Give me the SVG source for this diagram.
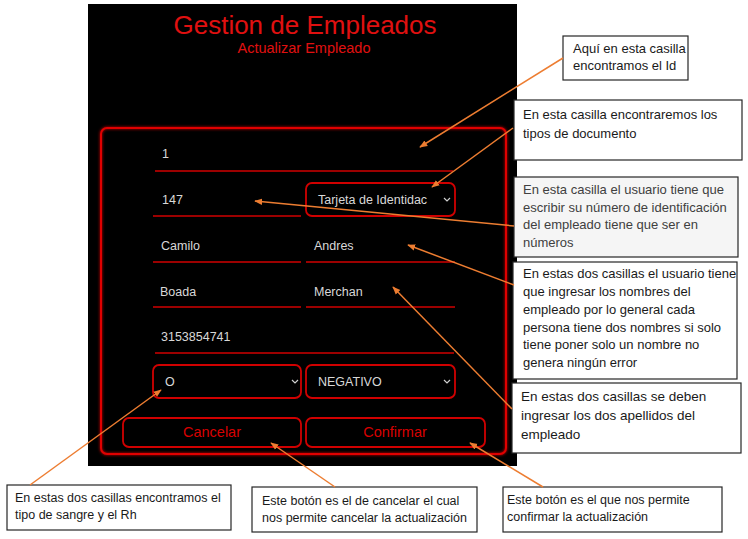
<svg xmlns="http://www.w3.org/2000/svg" width="748" height="539" viewBox="0 0 748 539">
<defs>
<style>
.field{font-family:"Liberation Sans",Arial,sans-serif;font-size:12.5px;fill:#d8d8d8}
.uline{stroke:#d00000;stroke-width:1.6}
.sel{fill:none;stroke:#d00000;stroke-width:1.8}
.chev{fill:none;stroke:#cfcfcf;stroke-width:1.2}
.btn{font-family:"Liberation Sans",Arial,sans-serif;font-size:14.5px;fill:#d80000;text-anchor:middle}
.note rect{fill:#ffffff;stroke:#262626;stroke-width:1.2}
.note text{font-family:"Liberation Sans",Arial,sans-serif;font-size:13px;fill:#1a1a1a}
.conn line{stroke:#ed7d31;stroke-width:1.5;marker-end:url(#ah)}
</style>
<marker id="ah" viewBox="0 0 10 10" refX="9" refY="5" markerWidth="8" markerHeight="8" orient="auto" markerUnits="userSpaceOnUse">
<path d="M0,1 L10,5 L0,9 z" fill="#ed7d31"/>
</marker>
<filter id="glow" x="-5%" y="-5%" width="110%" height="110%">
<feGaussianBlur stdDeviation="1.5" result="b"/>
<feMerge><feMergeNode in="b"/><feMergeNode in="SourceGraphic"/></feMerge>
</filter>
</defs>
<rect width="748" height="539" fill="#ffffff"/>

<g id="panel">
<rect x="88" y="4" width="429" height="462" fill="#000000"/>
<text x="305" y="34" text-anchor="middle" font-family="'Liberation Sans',Arial,sans-serif" font-size="26" fill="#e01010">Gestion de Empleados</text>
<text x="304" y="53" text-anchor="middle" font-family="'Liberation Sans',Arial,sans-serif" font-size="14.5" fill="#e01010">Actualizar Empleado</text>
<rect x="101" y="128" width="405" height="326" rx="6" fill="none" stroke="#e00000" stroke-width="2" filter="url(#glow)"/>
</g>

<g id="field-id"><text class="field" x="162" y="158">1</text><line class="uline" x1="155" y1="171" x2="453" y2="171"/></g>
<g id="field-numdoc"><text class="field" x="162" y="204">147</text><line class="uline" x1="153" y1="216" x2="301" y2="216"/></g>
<g id="select-tipodoc"><rect class="sel" x="306" y="183" width="149" height="33" rx="6"/><text class="field" x="318" y="204">Tarjeta de Identidac</text><path class="chev" d="M444,198 L447,201 L450,198"/></g>
<g id="field-nombre1"><text class="field" x="161" y="250">Camilo</text><line class="uline" x1="153" y1="262" x2="301" y2="262"/></g>
<g id="field-nombre2"><text class="field" x="314" y="250">Andres</text><line class="uline" x1="306" y1="262" x2="455" y2="262"/></g>
<g id="field-apellido1"><text class="field" x="160" y="296">Boada</text><line class="uline" x1="153" y1="307" x2="301" y2="307"/></g>
<g id="field-apellido2"><text class="field" x="314" y="296">Merchan</text><line class="uline" x1="306" y1="307" x2="455" y2="307"/></g>
<g id="field-telefono"><text class="field" x="161" y="341">3153854741</text><line class="uline" x1="155" y1="353" x2="454" y2="353"/></g>
<g id="select-sangre"><rect class="sel" x="153" y="365" width="148" height="33" rx="6"/><text class="field" x="165" y="386">O</text><path class="chev" d="M292,380 L295,383 L298,380"/></g>
<g id="select-rh"><rect class="sel" x="306" y="365" width="149" height="33" rx="6"/><text class="field" x="318" y="386">NEGATIVO</text><path class="chev" d="M444,380 L447,383 L450,380"/></g>
<g id="btn-cancelar"><rect class="sel" x="123" y="418" width="178" height="29" rx="6"/><text class="btn" x="212" y="437">Cancelar</text></g>
<g id="btn-confirmar"><rect class="sel" x="306" y="418" width="179" height="29" rx="6"/><text class="btn" x="395" y="437">Confirmar</text></g>

<g id="note-id" class="note"><rect x="563" y="36" width="125" height="44"/><text x="573" y="53" font-size="12">Aquí en esta casilla</text><text x="573" y="70" font-size="12">encontramos el Id</text></g>
<g id="note-tipodoc" class="note"><rect x="514" y="100" width="228" height="60"/><text x="523" y="119">En esta casilla encontraremos los</text><text x="523" y="138">tipos de documento</text></g>
<g id="note-numdoc" class="note"><rect x="514" y="177" width="224" height="80" style="fill:#f5f5f5"/><text x="523" y="194" style="fill:#404040">En esta casilla el usuario tiene que</text><text x="523" y="212" style="fill:#404040">escribir su número de identificación</text><text x="523" y="229" style="fill:#404040">del empleado tiene que ser en</text><text x="523" y="247" style="fill:#404040">números</text></g>
<g id="note-nombres" class="note"><rect x="513" y="262" width="224" height="117"/><text x="523" y="278">En estas dos casillas el usuario tiene</text><text x="523" y="296">que ingresar los nombres del</text><text x="523" y="314">empleado por lo general cada</text><text x="523" y="332">persona tiene dos nombres si solo</text><text x="523" y="349">tiene poner solo un nombre no</text><text x="523" y="367">genera ningún error</text></g>
<g id="note-apellidos" class="note"><rect x="512" y="383" width="229" height="70"/><text x="521" y="401" style="font-size:13.5px">En estas dos casillas se deben</text><text x="521" y="420" style="font-size:13.5px">ingresar los dos apellidos del</text><text x="521" y="439" style="font-size:13.5px">empleado</text></g>
<g id="note-confirmar" class="note"><rect x="503" y="487" width="219" height="45"/><text x="507" y="504" style="font-size:12.5px">Este botón es el que nos permite</text><text x="507" y="521" style="font-size:12.5px">confirmar la actualización</text></g>
<g id="note-sangre" class="note"><rect x="7" y="485" width="224" height="45"/><text x="15" y="502" style="font-size:12.5px">En estas dos casillas encontramos el</text><text x="15" y="519" style="font-size:12.5px">tipo de sangre y el Rh</text></g>
<g id="note-cancelar" class="note"><rect x="252" y="487" width="225" height="45"/><text x="262" y="505" style="font-size:12.5px">Este botón es el de cancelar el cual</text><text x="262" y="522" style="font-size:12.5px">nos permite cancelar la actualización</text></g>

<g id="connectors" class="conn">
<line x1="563" y1="58" x2="420" y2="147"/>
<line x1="513" y1="128" x2="432" y2="187"/>
<line x1="514" y1="226" x2="255" y2="201"/>
<line x1="514" y1="285" x2="408" y2="245"/>
<line x1="512" y1="409" x2="393" y2="287"/>
<line x1="30" y1="485" x2="161" y2="390"/>
<line x1="335" y1="487" x2="271" y2="443"/>
<line x1="543" y1="487" x2="470" y2="443"/>
</g>
</svg>
